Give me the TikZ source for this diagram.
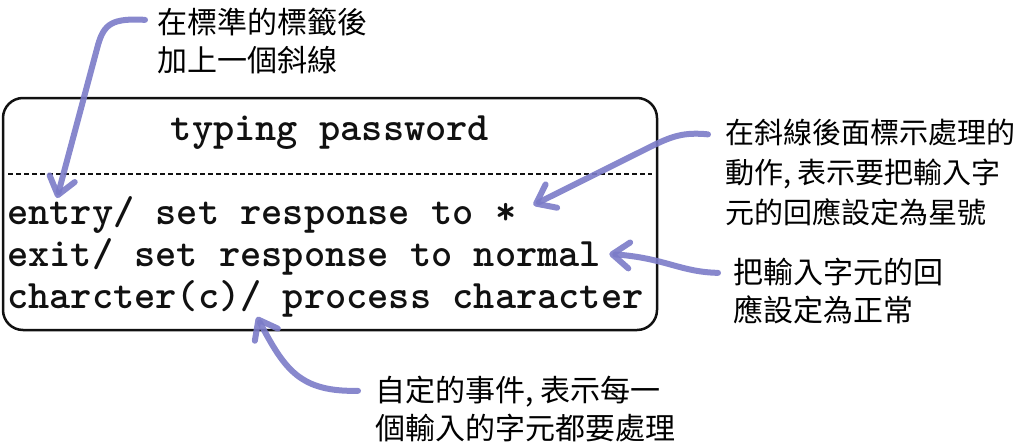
\documentclass[tikz,border=0pt]{standalone}
\usepackage{fontspec}
\newfontfamily\notefont{Noto Sans CJK TC}
\newfontfamily\codefont{lmmonolt10-bold}[Extension=.otf]
\usetikzlibrary{arrows.meta}

\definecolor{boxink}{HTML}{111111}
\definecolor{noteink}{HTML}{7B7BC8}

\begin{document}
\begin{tikzpicture}[
  x=1pt,y=-1pt,
  statebox/.style={draw=boxink,line width=2.5pt,rounded corners=20pt,
                   minimum width=654pt,minimum height=232pt,inner sep=0pt},
  code/.style={font=\codefont\fontsize{40.4}{42}\selectfont,
               text=boxink,inner sep=0pt,anchor=base west},
  note/.style={font=\notefont\fontsize{30}{38}\selectfont,align=left,
               inner sep=0pt,anchor=west},
  sepline/.style={boxink,line width=1.8pt,dash pattern=on 5pt off 3pt},
  pointer/.style={noteink,line width=6pt,line cap=round,line join=round,
                  opacity=.9,-{Straight Barb[length=17pt,width=26pt,round]}}
]
  \path[use as bounding box] (0,0) rectangle (1024,447);

  % state box with its internal activities
  \node[statebox] (state) at (330,214) {};
  \node[code,anchor=base] (title) at (330,140) {typing password};
  \draw[sepline] (8,174) -- (652,174);
  \node[code] (entry) at (7,224) {entry/ set response to *};
  \node[code] (exit) at (7,266) {exit/ set response to normal};
  \node[code] (event) at (7,308) {charcter(c)/ process character};

  % notes
  \node[note] (noteA) at (157,41) {在標準的標籤後\\加上一個斜線};
  \node[note,font=\notefont\fontsize{29}{40}\selectfont] (noteB) at (725,172)
    {在斜線後面標示處理的\\動作, 表示要把輸入字\\元的回應設定為星號};
  \node[note] (noteC) at (733,291) {把輸入字元的回\\應設定為正常};
  \node[note] (noteD) at (375,409) {自定的事件, 表示每一\\個輸入的字元都要處理};

  \coordinate (tipA) at ([shift={(50,-26)}]entry.base west);
  \coordinate (tipB) at ([shift={(17,-19)}]entry.base east);
  \coordinate (tipC) at ([shift={(8,-12)}]exit.base east);
  \coordinate (tipD) at ([shift={(250,9)}]event.base west);

  \draw[pointer] ([shift={(-12,12)}]noteA.north west)
    .. controls (112,18) and (104,24) .. (98,45) -- (tipA);
  \draw[pointer] ([shift={(-17,16)}]noteB.north west)
    .. controls (684,132) and (672,136) .. (650,147) -- (tipB);
  \draw[pointer] ([shift={(-15,15)}]noteC.north west)
    .. controls (680,272) and (665,258) .. (tipC);
  \draw[pointer] ([shift={(-17,15)}]noteD.north west)
    .. controls (300,392) and (285,370) .. (tipD);
\end{tikzpicture}
\end{document}
